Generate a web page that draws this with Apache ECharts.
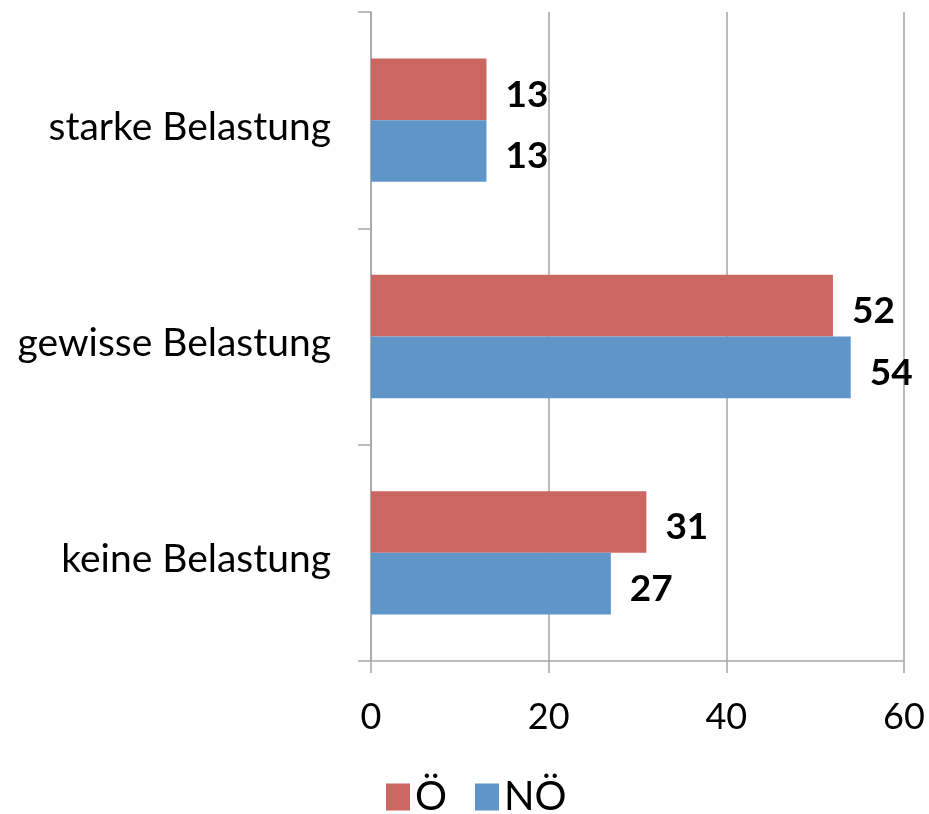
<!DOCTYPE html>
<html><head><meta charset="utf-8">
<script src="https://cdn.jsdelivr.net/npm/echarts@6/dist/echarts.min.js"></script>
<style>html,body{margin:0;padding:0;background:#fff}#c{width:929px;height:814px}</style>
</head><body><div id="c"></div>
<script>
const categories = ['keine Belastung', 'gewisse Belastung', 'starke Belastung'];
const seriesNames = ['Ö', 'NÖ'];
const valuesO = [31, 52, 13];
const valuesNO = [27, 54, 13];
const xTicks = [0, 20, 40, 60];

const font = 'Lato, "Open Sans", sans-serif';
const axisGray = '#A6A6A6';
const chart = echarts.init(document.getElementById('c'), null, {renderer: 'canvas'});
const labelCfg = {show: true, position: 'right', distance: 19, color: '#000', fontWeight: 'bold', fontSize: 37, fontFamily: font, verticalAlign: 'top', lineHeight: 11};
chart.setOption({
  animation: false,
  grid: {left: 371, right: 25, top: 12, bottom: 153, containLabel: false},
  legend: {
    data: seriesNames, bottom: -8, left: 381, itemWidth: 24, itemHeight: 27, itemGap: 28,
    icon: 'rect', textStyle: {fontSize: 40, fontFamily: font, color: '#000', padding: [8, 0, 0, 0]}
  },
  xAxis: {
    type: 'value', min: xTicks[0], max: xTicks[xTicks.length - 1], interval: 20,
    axisLine: {show: true, lineStyle: {color: axisGray, width: 1.5}},
    axisTick: {show: true, length: 12, lineStyle: {color: axisGray, width: 1.5}},
    splitLine: {show: true, lineStyle: {color: axisGray, width: 1.5}},
    axisLabel: {fontSize: 36, fontFamily: font, color: '#000', margin: 38}
  },
  yAxis: {
    type: 'category', data: categories,
    axisLine: {show: true, lineStyle: {color: axisGray, width: 1.5}},
    axisTick: {show: true, length: 13, lineStyle: {color: axisGray, width: 1.5}},
    axisLabel: {fontSize: 39, fontFamily: font, color: '#000', margin: 40, verticalAlign: 'top', lineHeight: 14}
  },
  series: [
    {name: seriesNames[0], type: 'bar', data: valuesO, itemStyle: {color: '#CC6661'}, barGap: '0%', barCategoryGap: '43%', label: labelCfg},
    {name: seriesNames[1], type: 'bar', data: valuesNO, itemStyle: {color: '#6095C9'}, barGap: '0%', barCategoryGap: '43%', label: labelCfg}
  ]
});
</script></body></html>
